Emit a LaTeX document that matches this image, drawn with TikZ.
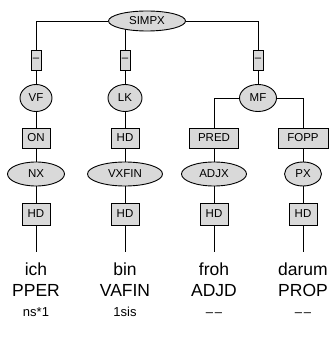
\documentclass[tikz,border=0pt]{standalone}
\usepackage{fontspec}
\setmainfont{Liberation Sans}
\usetikzlibrary{shapes.geometric,backgrounds}
\definecolor{NdFill}{RGB}{217,217,217}
\tikzset{
  nd_cat/.style={ellipse,draw=black,fill=NdFill,line width=0.9pt,inner sep=0pt,font=\fontsize{11.5}{13}\selectfont},
  nd_fn/.style={rectangle,draw=black,fill=NdFill,line width=0.9pt,inner sep=0pt,font=\fontsize{11.5}{13}\selectfont},
  nd_word/.style={anchor=base,inner xsep=0pt,inner ysep=10pt,font=\fontsize{17.5}{20}\selectfont},
  nd_pos/.style={anchor=base,inner sep=0pt,font=\fontsize{17.5}{20}\selectfont},
  nd_morph/.style={anchor=base,inner sep=0pt,font=\fontsize{13}{15}\selectfont},
  lnk/.style={line width=0.9pt},
}

\begin{document}
\begin{tikzpicture}[x=1pt,y=1pt]
\useasboundingbox (0,0) rectangle (332,-347);
\def\cA{36}\def\cB{125}\def\cC{214}\def\cD{303}
\node[nd_cat,minimum width=77pt,minimum height=20pt] at (147,-21)(SIMPX){SIMPX};
% topological fields
\node[nd_fn,minimum width=10pt,minimum height=20pt] at (\cA,-60)(tA){–};
\node[nd_fn,minimum width=10pt,minimum height=20pt] at (\cB,-60)(tB){–};
\node[nd_fn,minimum width=10pt,minimum height=20pt] at (258,-60)(tC){–};
\node[nd_cat,minimum width=32pt,minimum height=27pt] at (\cA,-98)(VF){VF};
\node[nd_cat,minimum width=34pt,minimum height=27pt] at (\cB,-98)(LK){LK};
\node[nd_cat,minimum width=37pt,minimum height=27pt] at (258,-98)(MF){MF};
% functions
\node[nd_fn,minimum width=28pt,minimum height=20pt] at (\cA,-138)(fnA){ON};
\node[nd_fn,minimum width=28pt,minimum height=20pt] at (\cB,-138)(fnB){HD};
\node[nd_fn,minimum width=49pt,minimum height=20pt] at (\cC,-138)(fnC){PRED};
\node[nd_fn,minimum width=50pt,minimum height=20pt] at (\cD,-138)(fnD){FOPP};
% phrases
\node[nd_cat,minimum width=57pt,minimum height=24pt] at (\cA,-174)(NX){NX};
\node[nd_cat,minimum width=75pt,minimum height=24pt] at (\cB,-174)(VXFIN){VXFIN};
\node[nd_cat,minimum width=65pt,minimum height=24pt] at (\cC,-174)(ADJX){ADJX};
\node[nd_cat,minimum width=37pt,minimum height=24pt] at (\cD,-174)(PX){PX};
% heads
\foreach \x/\n in {\cA/hA,\cB/hB,\cC/hC,\cD/hD}{
  \node[nd_fn,minimum width=28pt,minimum height=22pt] at (\x,-214)(\n){HD};}
% tokens
\node[nd_word] at (\cA,-275)(wA){ich};
\node[nd_word] at (\cB,-275)(wB){bin};
\node[nd_word] at (\cC,-275)(wC){froh};
\node[nd_word] at (\cD,-275)(wD){darum};
\node[nd_pos] at (\cA,-296)(pA){PPER};
\node[nd_pos] at (\cB,-296)(pB){VAFIN};
\node[nd_pos] at (\cC,-296)(pC){ADJD};
\node[nd_pos] at (\cD,-296)(pD){PROP};
\node[nd_morph] at (\cA,-316)(mA){ns*1};
\node[nd_morph] at (\cB,-316)(mB){1sis};
\node[nd_morph] at (\cC,-316)(mC){–\kern2pt–};
\node[nd_morph] at (\cD,-316)(mD){–\kern2pt–};
% edges
\begin{scope}[on background layer]
\draw[lnk](VF)|-(SIMPX)-|(MF);
\draw[lnk](SIMPX.center -| LK)--(LK);
\draw[lnk](fnC)|-(MF)-|(fnD);
\draw[lnk](VF)--(fnA);
\draw[lnk](LK)--(fnB);
\foreach \f/\c/\h/\w in {fnA/NX/hA/wA,fnB/VXFIN/hB/wB,fnC/ADJX/hC/wC,fnD/PX/hD/wD}{
  \draw[lnk](\f)--(\c)--(\h)--(\w.north);}
\end{scope}
\end{tikzpicture}
\end{document}
